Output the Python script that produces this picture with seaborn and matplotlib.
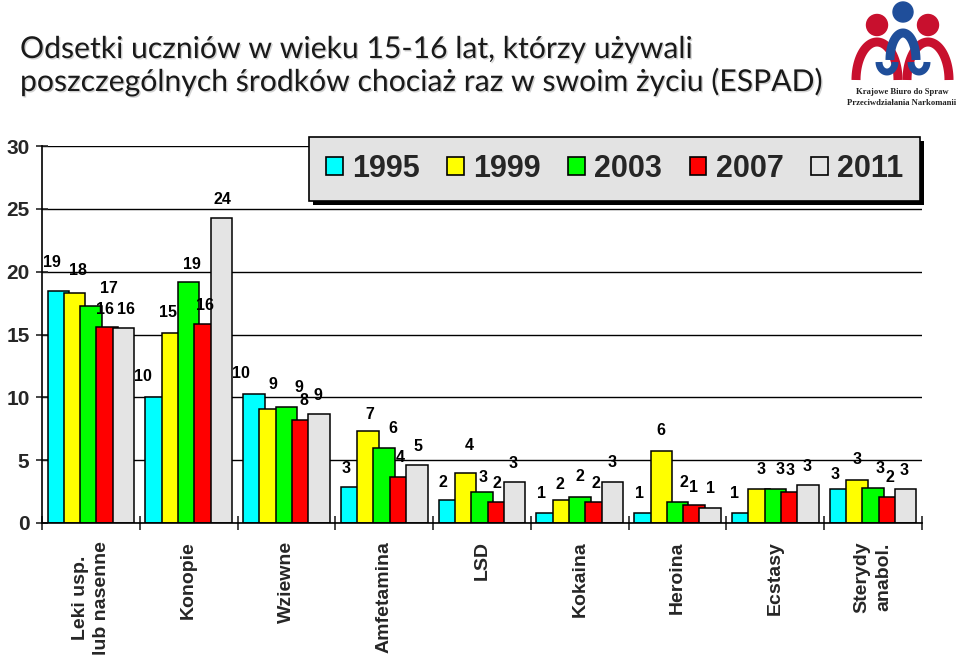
import matplotlib
matplotlib.use("Agg")
import numpy as np
import pandas as pd
import seaborn as sns
import matplotlib.pyplot as plt
import matplotlib.patheffects as pe
from matplotlib.patches import Patch, Rectangle, Circle
from matplotlib.font_manager import FontProperties

# ---------------- data ----------------
categories = ["Leki usp.\nlub nasenne", "Konopie", "Wziewne", "Amfetamina", "LSD",
              "Kokaina", "Heroina", "Ecstasy", "Sterydy\nanabol."]
years = ["1995", "1999", "2003", "2007", "2011"]
colors = ["#00FFFF", "#FFFF00", "#00FF00", "#FF0000", "#E4E4E4"]

v1995 = [18.5, 10.0, 10.3, 2.9, 1.8, 0.8, 0.8, 0.8, 2.7]
v1999 = [18.3, 15.1, 9.1, 7.3, 4.0, 1.8, 5.7, 2.7, 3.4]
v2003 = [17.3, 19.2, 9.2, 6.0, 2.5, 2.1, 1.7, 2.7, 2.8]
v2007 = [15.6, 15.8, 8.2, 3.7, 1.7, 1.7, 1.4, 2.5, 2.1]
v2011 = [15.5, 24.3, 8.7, 4.6, 3.3, 3.3, 1.2, 3.0, 2.7]

l1995 = [19, 10, 10, 3, 2, 1, 1, 1, 3]
l1999 = [18, 15, 9, 7, 4, 2, 6, 3, 3]
l2003 = [17, 19, 9, 6, 3, 2, 2, 3, 3]
l2007 = [16, 16, 8, 4, 2, 2, 1, 3, 2]
l2011 = [16, 24, 9, 5, 3, 3, 1, 3, 3]

series = [v1995, v1999, v2003, v2007, v2011]
labels = [l1995, l1999, l2003, l2007, l2011]

# label offsets in pixels (dx right, dy up), per category, per year
label_dx = [[-6, 3, 18, -2, 3], [-13, -4, 3, 0, 1], [-13, 3, 12, 1, -1],
            [-6, 2, 9, 0, 1], [-6, 4, 1, -1, -2], [-6, -4, 0, 0, 0],
            [-5, 0, 6, 0, 0], [-8, 2, 5, -2, -1], [-5, 0, 7, 1, -2]]
label_dy = [[28, 23, 17, 17, 19], [21, 21, 17, 19, 18], [20, 24, 20, 19, 18],
            [18, 17, 19, 19, 19], [18, 27, 14, 18, 18], [19, 16, 20, 18, 19],
            [19, 21, 19, 18, 19], [19, 20, 20, 21, 19], [15, 21, 19, 19, 19]]

rows = []
for y, vals in zip(years, series):
    for c, v in zip(categories, vals):
        rows.append({"Kategoria": c, "Rok": y, "Odsetek": v})
df = pd.DataFrame(rows)

# ---------------- style ----------------
sns.set_style("white")
plt.rcParams["font.family"] = ["Liberation Sans", "DejaVu Sans"]

W, H = 960, 662
fig = plt.figure(figsize=(W / 100, H / 100), dpi=100)
fig.patch.set_facecolor("white")
ax = fig.add_axes([42 / W, 139 / H, 880 / W, 377 / H])
ax.set_facecolor("none")

sns.barplot(data=df, x="Kategoria", y="Odsetek", hue="Rok", order=categories,
            hue_order=years, palette=dict(zip(years, colors)), saturation=1,
            edgecolor="black", linewidth=1.1, errorbar=None, legend=False, ax=ax)

step, width = 0.1667, 0.22
for i, cont in enumerate(ax.containers):
    for j, rect in enumerate(cont):
        c = j + (i - 2) * step
        rect.set_x(c - width / 2)
        rect.set_width(width)
        ax.annotate(str(labels[i][j]), xy=(c, rect.get_height()),
                    xytext=(label_dx[j][i], label_dy[j][i]), textcoords="offset pixels",
                    ha="center", va="center", fontsize=11.5, fontweight="bold", color="black")

ax.set_xlim(-0.5, 8.5)
ax.set_ylim(0, 30)
ax.set_yticks(np.arange(0, 31, 5))
ax.yaxis.grid(True, color="black", linewidth=1.0)
ax.set_axisbelow(True)
ax.set_xlabel("")
ax.set_ylabel("")
for s in ["top", "right"]:
    ax.spines[s].set_visible(False)
for s in ["left", "bottom"]:
    ax.spines[s].set_color("black")
    ax.spines[s].set_linewidth(1.2)

ax.tick_params(axis="y", direction="inout", length=8, width=1.2, labelsize=15, pad=5, left=True)
for t in ax.get_yticklabels():
    t.set_fontweight("bold")

ax.set_xticks(np.arange(-0.5, 9, 1))
ax.set_xticklabels([])
ax.set_xticks(np.arange(9), minor=True)
ax.set_xticklabels(categories, minor=True, rotation=90, fontsize=14, fontweight="bold",
                   linespacing=1.35, multialignment="center", va="top", ha="center")
ax.tick_params(axis="x", which="major", direction="inout", length=10, width=1.2, bottom=True)
ax.tick_params(axis="x", which="minor", length=0, pad=13, bottom=True)

# ---------------- legend ----------------
handles = [Patch(facecolor=c, edgecolor="black", linewidth=1.2, label=y) for y, c in zip(years, colors)]
leg = fig.legend(handles=handles, loc="upper right", bbox_to_anchor=(920 / W, 1 - 137 / H),
                 ncol=5, frameon=True, fancybox=False,
                 prop=FontProperties(family=["Liberation Sans", "DejaVu Sans"], weight="bold", size=22),
                 handlelength=0.55, handleheight=0.55, handletextpad=0.3, columnspacing=0.9,
                 borderpad=0.55, borderaxespad=0)
frame = leg.get_frame()
frame.set_facecolor("#E3E3E3")
frame.set_edgecolor("black")
frame.set_linewidth(1.2)
frame.set_alpha(1)

# ---------------- title ----------------
title_kw = dict(family=["Lato", "DejaVu Sans"], fontsize=21.7, color="#1a1a1a", va="baseline", ha="left",
                path_effects=[pe.withSimplePatchShadow(offset=(1, -1), shadow_rgbFace="gray", alpha=0.35)])
fig.text(20 / W, 1 - 58 / H, "Odsetki uczniów w wieku 15-16 lat, którzy używali", **title_kw)
fig.text(20 / W, 1 - 91 / H, "poszczególnych środków chociaż raz w swoim życiu (ESPAD)", **title_kw)

# ---------------- logo ----------------
lax = fig.add_axes([845 / W, 1 - 110 / H, 115 / W, 110 / H])
lax.set_xlim(845, 960)
lax.set_ylim(110, 0)
lax.axis("off")
red, blue = "#C8102E", "#1F4E9A"
lax.add_patch(Circle((877, 25), 10.5, color=red))
lax.add_patch(Circle((928, 25), 10.5, color=red))
lax.add_patch(Circle((903, 12), 10, color=blue))
th = np.linspace(0, np.pi, 60)
for cx in (877, 928):
    lax.plot(cx + 21 * np.cos(th), 80 - 38 * np.sin(th), color=red, lw=6.5, solid_capstyle="butt")
lax.plot(903 + 13 * np.cos(th), 60 - 27 * np.sin(th), color=blue, lw=6.5, solid_capstyle="butt")
for cx in (887, 919):
    lax.plot(cx + 8 * np.cos(th), 62 + 10 * np.sin(th), color=blue, lw=5, solid_capstyle="butt")
lax.text(902, 92, "Krajowe Biuro do Spraw", ha="center", va="center", fontsize=6.2,
         family=["Liberation Serif", "DejaVu Serif"], weight="bold", color="#222222")
lax.text(902, 103, "Przeciwdziałania Narkomanii", ha="center", va="center", fontsize=6.2,
         family=["Liberation Serif", "DejaVu Serif"], weight="bold", color="#222222")

# legend shadow
fig.canvas.draw()
bb = leg.get_window_extent().transformed(fig.transFigure.inverted())
fig.patches.append(Rectangle((bb.x0 + 4 / W, bb.y0 - 4 / H), bb.width, bb.height,
                             transform=fig.transFigure, facecolor="black", edgecolor="none", zorder=4))

fig.savefig("out.png", dpi=100)
